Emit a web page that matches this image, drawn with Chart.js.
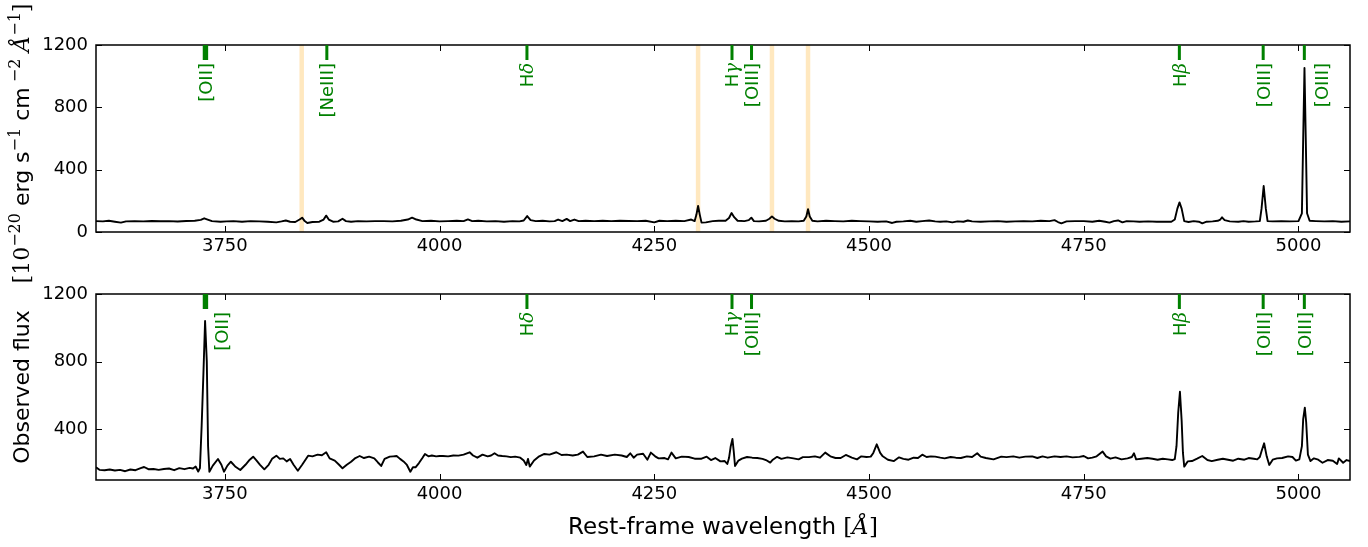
<!DOCTYPE html>
<html>
<head>
<meta charset="utf-8">
<script src="https://cdn.jsdelivr.net/npm/chart.js@4.4.1/dist/chart.umd.min.js"></script>
<style>
  body { margin: 0; background: #fff; width: 1368px; height: 547px; overflow: hidden; position: relative; }
  .panel { position: absolute; left: 0; width: 1368px; }
  #top { top: 0; height: 290px; }
  #bottom { top: 260px; height: 287px; }
</style>
</head>
<body>
<div class="panel" id="top"><canvas id="chartTop"></canvas></div>
<div class="panel" id="bottom"><canvas id="chartBottom"></canvas></div>
<script>
// axes
const xTicks = [3750, 4000, 4250, 4500, 4750, 5000];
const yTicksTop = [0, 400, 800, 1200];
const yTicksBottom = [400, 800, 1200];

// upper spectrum (wavelength in A, flux in 1e-20 erg/s/cm2/A)
const waveTop = [
  3600, 3608, 3615, 3622, 3629, 3635, 3645, 3655, 3665, 3675,
  3685, 3695, 3705, 3715, 3722, 3726, 3730, 3735, 3745, 3752,
  3760, 3770, 3780, 3790, 3800, 3810, 3816, 3821, 3826, 3832,
  3837, 3840, 3843, 3846, 3852, 3860, 3865, 3868, 3871, 3876,
  3882, 3887, 3891, 3897, 3905, 3915, 3925, 3935, 3945, 3955,
  3963, 3968, 3973, 3980, 3990, 4000, 4010, 4020, 4028, 4033,
  4038, 4045, 4055, 4065, 4075, 4085, 4093, 4098, 4102, 4106,
  4112, 4120, 4128, 4134, 4138, 4143, 4148, 4152, 4157, 4162,
  4170, 4180, 4190, 4200, 4210, 4220, 4230, 4240, 4250, 4256,
  4265, 4275, 4285, 4293, 4297, 4299, 4301, 4303, 4305, 4310,
  4318, 4325, 4333, 4337, 4340, 4343, 4347, 4355, 4360, 4363,
  4366, 4372, 4380, 4384, 4387, 4390, 4395, 4402, 4410, 4418,
  4424, 4427, 4429, 4431, 4434, 4440, 4450, 4460, 4470, 4480,
  4490, 4500, 4510, 4520, 4527, 4532, 4540, 4548, 4555, 4562,
  4570, 4577, 4583, 4590, 4597, 4603, 4610, 4615, 4620, 4630,
  4640, 4650, 4660, 4670, 4680, 4690, 4700, 4710, 4716, 4720,
  4724, 4730, 4740, 4750, 4760, 4768, 4775, 4780, 4785, 4790,
  4795, 4800, 4808, 4815, 4825, 4835, 4845, 4852, 4856, 4859,
  4861.5, 4864, 4867, 4872, 4878, 4884, 4888, 4893, 4900, 4906,
  4909, 4911, 4914, 4920, 4930, 4936, 4942, 4950, 4955, 4957,
  4959.5, 4962, 4964, 4970, 4980, 4990, 5000, 5004, 5005.5, 5007,
  5008.5, 5010, 5013, 5020, 5030, 5040, 5050, 5060
];
const fluxTop = [
  70, 68, 72, 66, 60, 68, 70, 68, 71, 69,
  70, 67, 71, 72, 78, 88, 80, 70, 66, 68,
  70, 66, 70, 68, 66, 62, 68, 74, 66, 64,
  80, 92, 70, 58, 64, 66, 80, 105, 80, 66,
  68, 85, 70, 66, 70, 68, 70, 70, 68, 72,
  80, 92, 80, 70, 72, 68, 70, 72, 70, 81,
  70, 72, 68, 70, 66, 70, 68, 74, 102, 76,
  70, 72, 68, 70, 80, 70, 84, 70, 80, 70,
  72, 70, 72, 70, 72, 71, 70, 72, 62, 72,
  70, 72, 70, 80, 70, 110, 167, 110, 60, 62,
  70, 72, 72, 90, 122, 95, 72, 70, 76, 92,
  70, 68, 72, 85, 100, 85, 72, 68, 70, 68,
  72, 100, 146, 100, 72, 68, 72, 70, 68, 72,
  70, 68, 66, 68, 58, 66, 68, 72, 66, 70,
  74, 68, 66, 68, 62, 68, 66, 74, 68, 66,
  68, 70, 66, 68, 70, 68, 72, 70, 76, 64,
  56, 68, 70, 70, 66, 72, 66, 60, 70, 74,
  62, 70, 68, 66, 68, 66, 66, 66, 80, 150,
  190, 150, 70, 64, 70, 66, 56, 66, 68, 72,
  80, 94, 76, 68, 66, 70, 66, 68, 70, 150,
  295, 150, 70, 68, 70, 68, 70, 120, 600, 1052,
  600, 120, 72, 70, 68, 70, 66, 68
];

// lower spectrum (observed flux)
const waveBottom = [
  3600, 3604, 3610, 3616, 3622, 3628, 3634, 3640, 3646, 3652,
  3656, 3661, 3667, 3673, 3679, 3685, 3691, 3697, 3703, 3709,
  3713, 3716, 3719, 3721, 3723, 3725, 3727, 3729, 3730.5, 3732,
  3736, 3742, 3746, 3749, 3753, 3757, 3762, 3768, 3774, 3779,
  3783, 3787, 3791, 3796, 3801, 3805, 3810, 3814, 3818, 3822,
  3826, 3830, 3835, 3840, 3847, 3852, 3858, 3863, 3868, 3872,
  3878, 3883, 3887, 3892, 3897, 3902, 3907, 3912, 3918, 3924,
  3928, 3932, 3936, 3942, 3946, 3950, 3954, 3958, 3962, 3966,
  3969, 3972, 3976, 3980, 3983, 3987, 3991, 3996, 4000, 4004,
  4010, 4016, 4022, 4028, 4035, 4039, 4044, 4050, 4056, 4060,
  4064, 4068, 4073, 4078, 4083, 4088, 4094, 4098, 4101, 4103,
  4105, 4110, 4116, 4122, 4128, 4136, 4142, 4148, 4155, 4161,
  4167, 4172, 4180, 4188, 4195, 4204, 4212, 4218, 4222, 4226,
  4230, 4237, 4242, 4246, 4251, 4255, 4262, 4266, 4270, 4275,
  4282, 4290, 4297, 4305, 4311, 4316, 4321, 4327, 4332, 4335,
  4337, 4339, 4341, 4342.5, 4344, 4348, 4352, 4358, 4364, 4370,
  4376, 4380, 4385, 4388, 4393, 4398, 4405, 4412, 4418, 4423,
  4430, 4437, 4443, 4449, 4455, 4461, 4467, 4473, 4480, 4486,
  4491, 4497, 4502, 4505, 4509, 4513, 4516, 4522, 4529, 4535,
  4540, 4546, 4552, 4557, 4562, 4567, 4572, 4577, 4583, 4588,
  4595, 4601, 4607, 4614, 4620, 4626, 4630, 4636, 4645, 4654,
  4660, 4668, 4675, 4682, 4690, 4696, 4702, 4708, 4716, 4723,
  4730, 4737, 4745, 4750, 4755, 4760, 4765, 4772, 4776, 4781,
  4787, 4794, 4801, 4806, 4808.5, 4811, 4817, 4824, 4830, 4836,
  4842, 4848, 4853, 4856, 4858, 4860, 4862, 4864, 4865.5, 4867,
  4871, 4876, 4882, 4888, 4894, 4899, 4906, 4912, 4918, 4924,
  4930, 4937, 4942, 4948, 4952, 4955, 4957, 4960, 4963, 4966,
  4970, 4975, 4981, 4988, 4993, 4997, 5001, 5004, 5005.5, 5007.4,
  5009, 5011, 5014, 5018, 5023, 5028, 5034, 5040, 5045, 5047,
  5052, 5056, 5060
];
const fluxBottom = [
  175, 160, 158, 162, 156, 160, 152, 162, 158, 170,
  177, 164, 165, 160, 165, 168, 158, 170, 164, 172,
  168, 180, 150, 170, 420, 720, 1040, 800, 300, 149,
  185, 224, 190, 149, 185, 208, 180, 159, 190, 220,
  238, 215, 190, 163, 190, 225, 244, 225, 228, 210,
  224, 190, 155, 190, 244, 240, 250, 246, 264, 228,
  215, 190, 169, 190, 208, 230, 242, 230, 238, 228,
  205, 183, 225, 238, 240, 242, 225, 210, 189, 149,
  175, 175, 200, 230, 254, 240, 245, 240, 242, 242,
  240, 245, 244, 250, 264, 245, 232, 250, 240, 245,
  258, 245, 242, 240, 235, 238, 232, 215, 189, 225,
  179, 215, 240, 254, 250, 264, 248, 250, 245, 250,
  268, 236, 240, 250, 242, 250, 245, 236, 258, 232,
  250, 255, 220, 262, 240, 228, 230, 222, 262, 228,
  238, 236, 226, 226, 238, 218, 230, 210, 212, 195,
  230, 300, 343, 270, 183, 215, 226, 236, 232, 230,
  225, 218, 203, 220, 237, 225, 234, 228, 222, 235,
  235, 240, 232, 262, 240, 230, 230, 248, 232, 222,
  240, 236, 238, 260, 311, 260, 240, 220, 212, 234,
  225, 220, 232, 230, 250, 236, 240, 238, 232, 228,
  236, 232, 230, 240, 236, 258, 238, 230, 222, 238,
  235, 240, 232, 238, 240, 230, 240, 232, 240, 236,
  240, 234, 237, 242, 228, 232, 240, 268, 240, 226,
  234, 222, 228, 236, 258, 222, 226, 230, 226, 220,
  226, 222, 218, 224, 300, 500, 622, 450, 260, 179,
  210, 212, 226, 242, 218, 212, 220, 226, 220, 214,
  226, 220, 230, 226, 222, 236, 270, 317, 240, 189,
  220, 228, 230, 240, 236, 215, 222, 300, 460, 528,
  440, 250, 212, 228, 220, 202, 218, 214, 195, 228,
  202, 218, 212
];

// emission lines (rest wavelength) and masked sky regions
const lineNames = ["[OII]", "[NeIII]", "Hδ", "Hγ", "[OIII]", "Hβ", "[OIII]", "[OIII]"];
const lineWaves = [3727.4, 3868.76, 4101.74, 4340.47, 4363.21, 4861.33, 4958.91, 5006.84];
const oiiDoublet = [3726.03, 3728.82];
const skyBands = [3839.5, 4301, 4387, 4429];

const SANS = "'DejaVu Sans', sans-serif";
const SERIF = "'DejaVu Serif', serif";
const GREEN = "#008000";

function partsWidth(ctx, parts) {
  let w = 0;
  parts.forEach(p => { ctx.font = p[1]; w += ctx.measureText(p[0]).width; });
  return w;
}
function drawParts(ctx, parts, x, y) {
  parts.forEach(p => {
    ctx.font = p[1];
    ctx.fillText(p[0], x, y - (p[2] || 0));
    x += ctx.measureText(p[0]).width;
  });
}
function lineLabel(name) {
  if (name[0] === "H") {
    return [["H", "18px " + SANS], [name.slice(1), "italic 18px " + SERIF]];
  }
  return [[name, "18px " + SANS]];
}

const panelPlugin = {
  id: "panel",
  beforeDatasetsDraw(chart, args, opts) {
    const { ctx, chartArea: a, scales: { x } } = chart;
    ctx.save();
    ctx.fillStyle = "rgba(255,165,0,0.25)";
    (opts.bands || []).forEach(c => {
      const l = x.getPixelForValue(c - 2.6), r = x.getPixelForValue(c + 2.6);
      ctx.fillRect(l, a.top, r - l, a.bottom - a.top);
    });
    ctx.restore();
  },
  afterDraw(chart, args, opts) {
    const { ctx, chartArea: a, scales: { x, y } } = chart;
    ctx.save();

    // frame + inward ticks
    ctx.strokeStyle = "#000";
    ctx.lineWidth = 1.5;
    ctx.strokeRect(a.left, a.top, a.right - a.left, a.bottom - a.top);
    ctx.lineWidth = 1;
    ctx.beginPath();
    xTicks.forEach(v => {
      const px = Math.round(x.getPixelForValue(v)) + 0.5;
      ctx.moveTo(px, a.bottom); ctx.lineTo(px, a.bottom - 6);
      ctx.moveTo(px, a.top); ctx.lineTo(px, a.top + 6);
    });
    opts.yTicks.forEach(v => {
      const py = Math.round(y.getPixelForValue(v)) + 0.5;
      ctx.moveTo(a.left, py); ctx.lineTo(a.left + 6, py);
      ctx.moveTo(a.right, py); ctx.lineTo(a.right - 6, py);
    });
    ctx.stroke();

    // line markers
    ctx.strokeStyle = GREEN;
    ctx.lineWidth = 3;
    ctx.beginPath();
    opts.show.forEach(i => {
      const waves = lineNames[i] === "[OII]" ? oiiDoublet : [lineWaves[i]];
      waves.forEach(w => {
        const px = x.getPixelForValue(w);
        ctx.moveTo(px, a.top); ctx.lineTo(px, a.top + 15);
      });
    });
    ctx.stroke();

    // line labels, rotated
    ctx.fillStyle = GREEN;
    ctx.textAlign = "left";
    ctx.textBaseline = "alphabetic";
    opts.show.forEach(i => {
      const parts = lineLabel(lineNames[i]);
      const w = partsWidth(ctx, parts);
      const px = x.getPixelForValue(lineWaves[i]) + (opts.shift[i] || 0);
      ctx.save();
      ctx.translate(px, a.top + 18);
      ctx.rotate(-Math.PI / 2);
      drawParts(ctx, parts, -w, 6.5);
      ctx.restore();
    });

    // axis titles
    ctx.fillStyle = "#000";
    const cy = (a.top + a.bottom) / 2 + (opts.yTitleShift || 0);
    const tw = partsWidth(ctx, opts.yTitle);
    ctx.save();
    ctx.translate(21, cy);
    ctx.rotate(-Math.PI / 2);
    drawParts(ctx, opts.yTitle, -tw / 2, 8);
    ctx.restore();

    if (opts.xTitle) {
      const xw = partsWidth(ctx, opts.xTitle);
      drawParts(ctx, opts.xTitle, (a.left + a.right) / 2 - xw / 2, a.bottom + 54);
    }
    ctx.restore();
  }
};

function makeChart(id, wave, flux, yMin, yTicks, padding, xHeight, panel) {
  return new Chart(document.getElementById(id), {
    type: "line",
    data: {
      datasets: [{
        data: wave.map((w, i) => ({ x: w, y: flux[i] })),
        borderColor: "#000",
        borderWidth: 1.9,
        borderJoinStyle: "round",
        pointRadius: 0,
        tension: 0,
        fill: false
      }]
    },
    options: {
      responsive: true,
      maintainAspectRatio: false,
      animation: false,
      layout: { padding: padding },
      plugins: {
        legend: { display: false },
        tooltip: { enabled: false },
        panel: Object.assign({ yTicks: yTicks }, panel)
      },
      scales: {
        x: {
          type: "linear", min: 3600, max: 5060,
          grid: { display: false, drawTicks: false },
          border: { display: false },
          afterBuildTicks: s => { s.ticks = xTicks.map(v => ({ value: v })); },
          afterFit: s => { s.height = xHeight; },
          ticks: {
            padding: 4, maxRotation: 0, autoSkip: false, color: "#000",
            font: { family: "DejaVu Sans", size: 18 },
            callback: v => String(v)
          }
        },
        y: {
          type: "linear", min: yMin, max: 1200,
          grid: { display: false, drawTicks: false },
          border: { display: false },
          afterBuildTicks: s => { s.ticks = yTicks.map(v => ({ value: v })); },
          afterFit: s => { s.width = 60; },
          ticks: {
            padding: 8, color: "#000",
            font: { family: "DejaVu Sans", size: 18 },
            callback: v => String(v)
          }
        }
      }
    },
    plugins: [panelPlugin]
  });
}

const fluxUnits = [
  ["[10", "22px " + SERIF], ["−20", "16px " + SERIF, 9], [" erg s", "22px " + SANS],
  ["−1", "16px " + SERIF, 9], [" cm", "22px " + SANS], [" −2", "16px " + SERIF, 9],
  [" ", "22px " + SANS], ["Å", "italic 22px " + SERIF], ["−1", "16px " + SERIF, 9],
  ["]", "22px " + SERIF]
];

makeChart("chartTop", waveTop, fluxTop, 0, yTicksTop,
  { left: 36, right: 18, top: 45, bottom: 28 }, 30,
  { bands: skyBands, show: [0, 1, 2, 3, 4, 5, 6, 7], shift: { 7: 17 },
    yTitle: fluxUnits, yTitleShift: 5 });

makeChart("chartBottom", waveBottom, fluxBottom, 100, yTicksBottom,
  { left: 36, right: 18, top: 34, bottom: 27 }, 40,
  { bands: [], show: [0, 2, 3, 4, 5, 6, 7], shift: { 0: 16 },
    yTitle: [["Observed flux", "22px " + SANS]],
    xTitle: [["Rest-frame wavelength ", "23px " + SANS], ["[", "23px " + SERIF],
             ["Å", "italic 23px " + SERIF], ["]", "23px " + SERIF]] });
</script>
</body>
</html>
